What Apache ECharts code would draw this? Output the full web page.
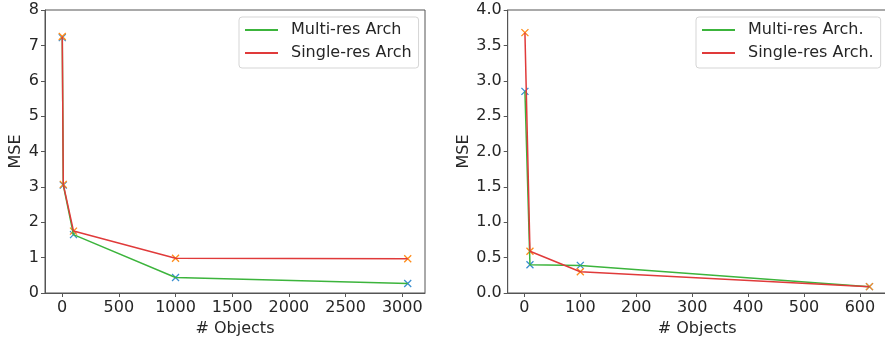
<!DOCTYPE html>
<html>
<head>
<meta charset="utf-8">
<script src="https://cdn.jsdelivr.net/npm/echarts@6/dist/echarts.min.js"></script>
<style>html,body{margin:0;padding:0;background:#fff}#c{width:885px;height:337px}</style>
</head>
<body>
<div id="c"></div>
<script>
// Left panel
const leftX = [1, 10, 100, 1000, 3048];
const leftMulti = [7.22, 3.05, 1.65, 0.44, 0.27];
const leftSingle = [7.25, 3.07, 1.75, 0.98, 0.97];
const leftXTicks = [0, 500, 1000, 1500, 2000, 2500, 3000];
const leftYTicks = [0, 1, 2, 3, 4, 5, 6, 7, 8];
const leftNames = ['Multi-res Arch', 'Single-res Arch'];
// Right panel
const rightX = [1, 10, 100, 617];
const rightMulti = [2.85, 0.40, 0.39, 0.09];
const rightSingle = [3.68, 0.59, 0.30, 0.09];
const rightXTicks = [0, 100, 200, 300, 400, 500, 600];
const rightYTicks = [0, 0.5, 1.0, 1.5, 2.0, 2.5, 3.0, 3.5, 4.0];
const rightNames = ['Multi-res Arch.', 'Single-res Arch.'];
const xName = '# Objects';
const yName = 'MSE';

const FONT = 'DejaVu Sans';
const FS = 16;
const TXT = '#262626';
const SPINE = '#555555';
const GREEN = '#3cb43c';
const RED = '#e03a3a';
const BLUE = '#3a8fd0';
const ORANGE = '#ff8c1a';
const XSYM = 'path://M0,0L10,10M10,0L0,10';

function pairs(xs, ys) { return xs.map((x, i) => [x, ys[i]]); }
function pad(xs) { const lo = Math.min(...xs), hi = Math.max(...xs), r = hi - lo; return [lo - 0.05 * r, hi + 0.05 * r]; }

function xAxis(idx, xs, ticks) {
  const [mn, mx] = pad(xs);
  return {
    type: 'value', gridIndex: idx, min: mn, max: mx,
    name: xName, nameLocation: 'middle', nameGap: 26,
    nameTextStyle: { fontFamily: FONT, fontSize: FS, color: TXT },
    axisLine: { show: true, onZero: false, lineStyle: { color: SPINE, width: 1 } },
    axisTick: { show: true, length: 4, customValues: ticks, lineStyle: { color: SPINE } },
    axisLabel: { customValues: ticks, fontFamily: FONT, fontSize: FS, color: TXT, margin: 7,
      formatter: v => String(v) },
    splitLine: { show: false }
  };
}
function yAxis(idx, ticks, dec) {
  return {
    type: 'value', gridIndex: idx, min: ticks[0], max: ticks[ticks.length - 1], interval: ticks[1] - ticks[0],
    name: yName, nameLocation: 'middle', nameGap: dec ? 36 : 21,
    nameTextStyle: { fontFamily: FONT, fontSize: FS, color: TXT },
    axisLine: { show: true, onZero: false, lineStyle: { color: SPINE, width: 1 } },
    axisTick: { show: true, length: 4, lineStyle: { color: SPINE } },
    axisLabel: { fontFamily: FONT, fontSize: FS, color: TXT, margin: 6,
      formatter: v => dec ? v.toFixed(1) : String(v) },
    splitLine: { show: false }
  };
}
function lineS(name, idx, xs, ys, color) {
  return { name, type: 'line', xAxisIndex: idx, yAxisIndex: idx, data: pairs(xs, ys),
    showSymbol: false, symbol: 'none', lineStyle: { color, width: 1.5 }, itemStyle: { color }, z: 3, animation: false };
}
function markS(idx, xs, ys, color) {
  return { type: 'scatter', xAxisIndex: idx, yAxisIndex: idx, data: pairs(xs, ys),
    symbol: XSYM, symbolSize: 7,
    itemStyle: { color: 'rgba(0,0,0,0)', borderColor: color, borderWidth: 1.3, opacity: 1 }, z: 2, animation: false, silent: true };
}
function legend(idx, names, left, right) {
  return {
    data: names, orient: 'vertical', top: 17, left: left, width: right - left,
    icon: 'rect', itemWidth: 33, itemHeight: 2, itemGap: 7,
    padding: [5, 7, 7, 6],
    backgroundColor: '#fff', borderColor: '#d5d5d5', borderWidth: 1, borderRadius: 3,
    textStyle: { fontFamily: FONT, fontSize: FS, color: TXT, padding: [0, 0, 0, 8] }
  };
}

const chart = echarts.init(document.getElementById('c'), null, { renderer: 'canvas' });
chart.setOption({
  animation: false,
  backgroundColor: '#fff',
  grid: [
    { left: 45, top: 10, width: 380, height: 283, containLabel: false, outerBoundsMode: 'none', show: true, borderColor: SPINE, borderWidth: 1, backgroundColor: 'transparent' },
    { left: 507.7, top: 10, width: 379, height: 283, containLabel: false, outerBoundsMode: 'none', show: true, borderColor: SPINE, borderWidth: 1, backgroundColor: 'transparent' }
  ],
  xAxis: [xAxis(0, leftX, leftXTicks), xAxis(1, rightX, rightXTicks)],
  yAxis: [yAxis(0, leftYTicks, false), yAxis(1, rightYTicks, true)],
  legend: [legend(0, leftNames, 239, 417), legend(1, rightNames, 696, 879)],
  series: [
    markS(0, leftX, leftMulti, BLUE),
    markS(0, leftX, leftSingle, ORANGE),
    lineS(leftNames[0], 0, leftX, leftMulti, GREEN),
    lineS(leftNames[1], 0, leftX, leftSingle, RED),
    markS(1, rightX, rightMulti, BLUE),
    markS(1, rightX, rightSingle, ORANGE),
    lineS(rightNames[0], 1, rightX, rightMulti, GREEN),
    lineS(rightNames[1], 1, rightX, rightSingle, RED)
  ]
});
</script>
</body>
</html>
